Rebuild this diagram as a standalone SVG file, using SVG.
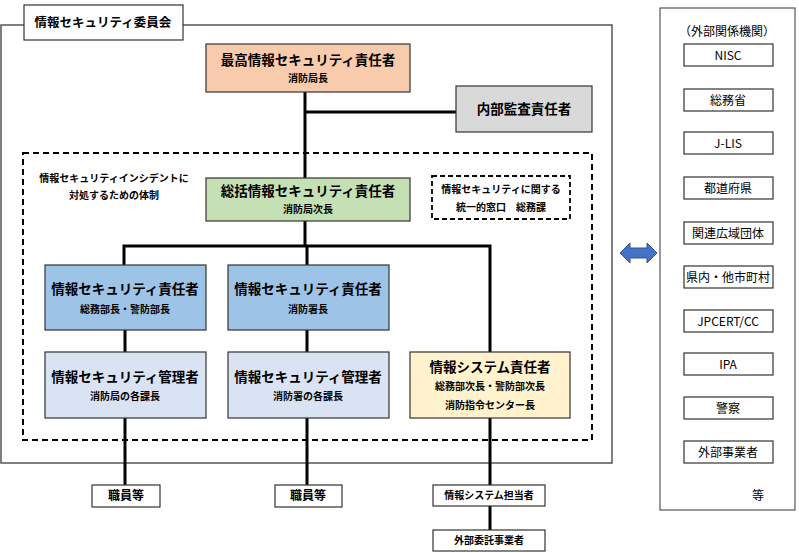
<svg xmlns="http://www.w3.org/2000/svg" width="799" height="553" viewBox="0 0 799 553">
<style>
text{font-family:"Noto Sans CJK JP","Noto Sans",sans-serif;fill:#000;text-anchor:middle}
.b{stroke:#333;stroke-width:1.2}
.t{font-size:13.5px;font-weight:bold}
.s{font-size:10px;font-weight:bold}
.r{font-size:12px}
.c{stroke:#000;stroke-width:3;fill:none}
.w{fill:#fff;stroke:#333;stroke-width:1.2}
.d{fill:none;stroke:#000;stroke-width:2;stroke-dasharray:6,4}
</style>
<rect x="1" y="25" width="611" height="438" fill="#fff" stroke="#555" stroke-width="1.5"/>
<rect x="23" y="153" width="569" height="287" class="d"/>
<g id="connectors">
<path class="c" d="M305 92V246M305 112H456M124 265V246H490V352M307 246V265M125 330V352M307 330V352M125 418V485M307 418V485M490 418V530"/>
</g>
<g id="committee"><rect x="24" y="5" width="159" height="35" class="w"/><text x="103" y="27" class="t" style="font-size:12.5px">情報セキュリティ委員会</text></g>
<g id="incident-label"><text x="114" y="182" class="s">情報セキュリティインシデントに</text><text x="114" y="199" class="s">対処するための体制</text></g>
<g id="ciso"><rect x="206" y="44" width="204" height="48" fill="#f8cbad" class="b"/><text x="308" y="65" class="t">最高情報セキュリティ責任者</text><text x="308" y="82" class="s">消防局長</text></g>
<g id="audit"><rect x="456" y="86" width="136" height="46" fill="#d9d9d9" class="b"/><text x="524" y="114" class="t">内部監査責任者</text></g>
<g id="general"><rect x="206" y="178" width="204" height="43" fill="#c5e0b4" class="b"/><text x="308" y="196" class="t">総括情報セキュリティ責任者</text><text x="308" y="213" class="s">消防局次長</text></g>
<g id="window"><rect x="432" y="176" width="138" height="43" fill="#fff" stroke="#000" stroke-width="1.8" stroke-dasharray="5,3"/><text x="501" y="193" class="s">情報セキュリティに関する</text><text x="501" y="211" class="s">統一的窓口　総務課</text></g>
<g id="sec1"><rect x="45" y="265" width="161" height="65" fill="#9dc3e6" class="b"/><text x="125" y="294" class="t">情報セキュリティ責任者</text><text x="125" y="313" class="s">総務部長・警防部長</text></g>
<g id="sec2"><rect x="228" y="265" width="161" height="65" fill="#9dc3e6" class="b"/><text x="308" y="294" class="t">情報セキュリティ責任者</text><text x="308" y="313" class="s">消防署長</text></g>
<g id="mgr1"><rect x="45" y="352" width="161" height="66" fill="#dae3f3" class="b"/><text x="125" y="382" class="t">情報セキュリティ管理者</text><text x="125" y="400" class="s">消防局の各課長</text></g>
<g id="mgr2"><rect x="228" y="352" width="161" height="66" fill="#dae3f3" class="b"/><text x="308" y="382" class="t">情報セキュリティ管理者</text><text x="308" y="400" class="s">消防署の各課長</text></g>
<g id="sys"><rect x="410" y="352" width="160" height="66" fill="#fff2cc" class="b"/><text x="490" y="372" class="t">情報システム責任者</text><text x="490" y="390" class="s">総務部次長・警防部次長</text><text x="490" y="409" class="s">消防指令センター長</text></g>
<g id="staff1"><rect x="92" y="485" width="68" height="22" class="w"/><text x="126" y="500" class="r" font-weight="bold">職員等</text></g>
<g id="staff2"><rect x="275" y="485" width="67" height="22" class="w"/><text x="308" y="500" class="r" font-weight="bold">職員等</text></g>
<g id="sysstaff"><rect x="433" y="485" width="112" height="21" class="w"/><text x="489" y="499" class="s">情報システム担当者</text></g>
<g id="outsource"><rect x="433" y="530" width="112" height="21" class="w"/><text x="489" y="544" class="s">外部委託事業者</text></g>
<g id="arrow"><path d="M620 253l10-10v5h17v-5l10 10-10 10v-5h-17v5z" fill="#4472c4" stroke="#2f5597"/></g>
<g id="external">
<rect x="660" y="8" width="135" height="502" fill="#fff" stroke="#555" stroke-width="1.2"/>
<text x="727" y="36" class="r">（外部関係機関）</text>
<rect x="684" y="44" width="89" height="22" class="w"/><text x="728" y="60" class="r">NISC</text>
<rect x="684" y="89" width="89" height="22" class="w"/><text x="728" y="105" class="r">総務省</text>
<rect x="684" y="132" width="89" height="22" class="w"/><text x="728" y="148" class="r">J-LIS</text>
<rect x="684" y="177" width="89" height="22" class="w"/><text x="728" y="193" class="r">都道府県</text>
<rect x="684" y="222" width="89" height="22" class="w"/><text x="728" y="238" class="r">関連広域団体</text>
<rect x="684" y="266" width="89" height="22" class="w"/><text x="728" y="282" class="r">県内・他市町村</text>
<rect x="684" y="310" width="89" height="22" class="w"/><text x="728" y="326" class="r">JPCERT/CC</text>
<rect x="684" y="353" width="89" height="22" class="w"/><text x="728" y="369" class="r">IPA</text>
<rect x="684" y="397" width="89" height="22" class="w"/><text x="728" y="413" class="r">警察</text>
<rect x="684" y="441" width="89" height="22" class="w"/><text x="728" y="457" class="r">外部事業者</text>
<text x="758" y="500" class="r">等</text>
</g>
</svg>
